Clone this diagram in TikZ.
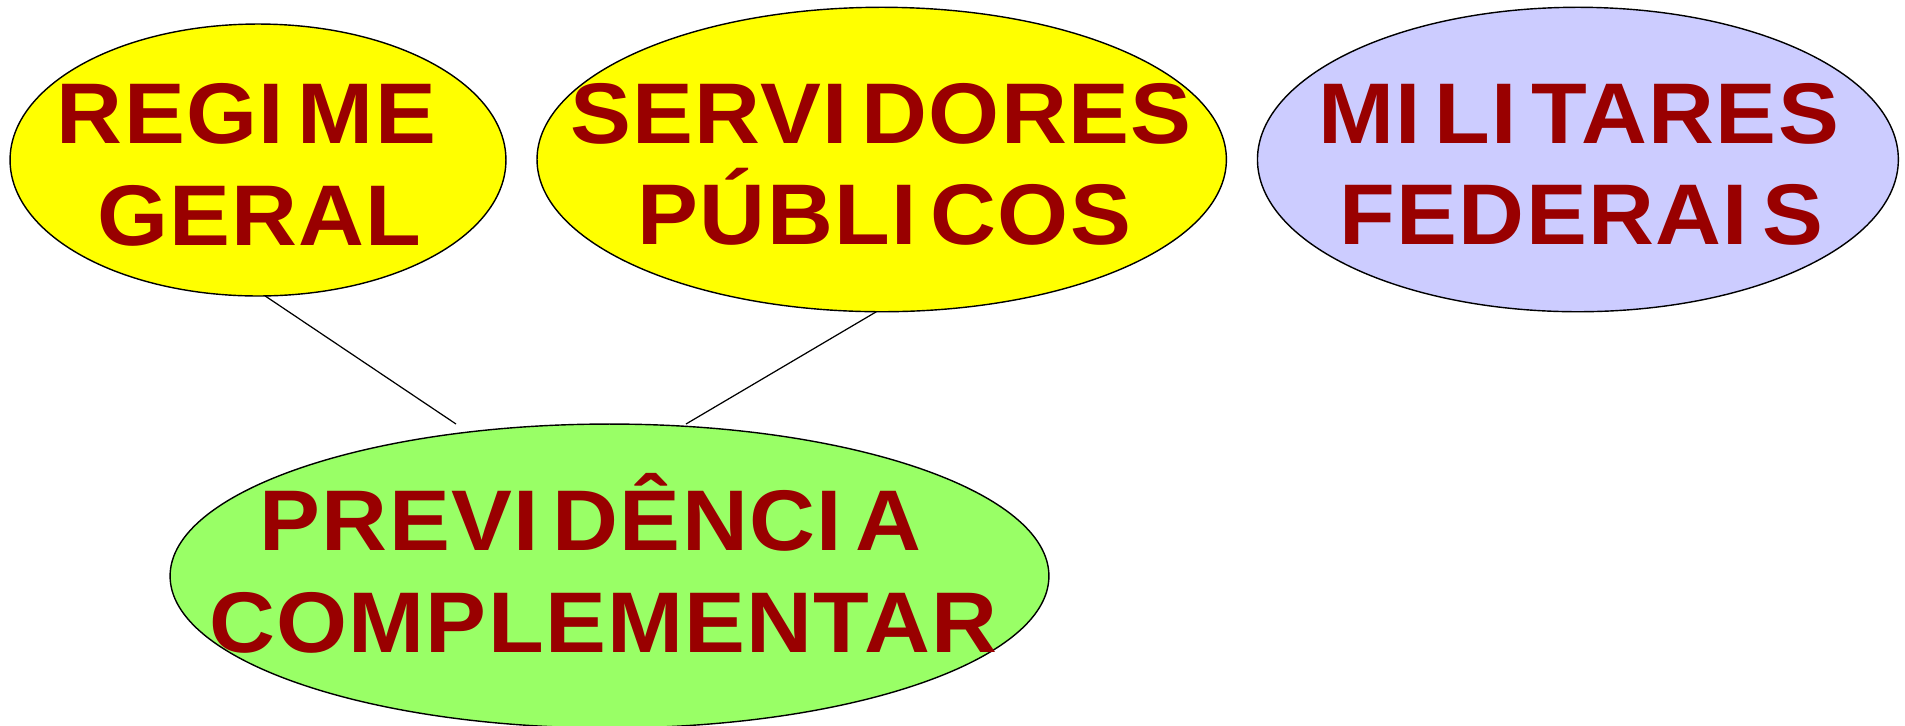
\documentclass[tikz,border=0pt]{standalone}
\usepackage{fontspec}
\usetikzlibrary{shapes.geometric}
\newfontfamily\lblfont[LetterSpace=1.5,FakeStretch=1.06]{Liberation Sans}
\definecolor{txtred}{HTML}{990000}
\definecolor{bubyellow}{HTML}{FFFF00}
\definecolor{bublav}{HTML}{CCCCFF}
\definecolor{bubgreen}{HTML}{99FF66}
\newcommand\Ig{I\hspace{8pt}}
\begin{document}
\begin{tikzpicture}[x=0.02cm,y=-0.02cm,
  bubble/.style={ellipse,draw=black,line width=0.8pt,inner sep=0pt,outer sep=0pt},
  lbl/.style={anchor=base,inner sep=0pt,text=txtred,font=\lblfont\bfseries\fontsize{49}{57.5}\selectfont},
  link/.style={draw=black,line width=0.7pt}]
\useasboundingbox (0,0) rectangle (1905,725);
% bubbles
\node[bubble,fill=bubyellow,minimum width=9.92cm,minimum height=5.44cm] (rg) at (258,160) {};
\node[bubble,fill=bubyellow,minimum width=13.79cm,minimum height=6.09cm] (sp) at (881.7,159.5) {};
\node[bubble,fill=bublav,minimum width=12.82cm,minimum height=6.09cm] (mf) at (1577.9,159.5) {};
\node[bubble,fill=bubgreen,minimum width=17.58cm,minimum height=6.08cm] (pc) at (609.5,576) {};
% labels
\node[lbl] (rgA) at (246.5,143) {REG\Ig ME};
\node[lbl] (rgB) at (259.5,245) {GERAL};
\node[lbl] (spA) at (881,143) {SERV\Ig DORES};
\node[lbl] (spB) at (884.5,244) {PÚBL\Ig COS};
\node[lbl] (mfA) at (1578.5,143) {M\Ig L\Ig TARES};
\node[lbl] (mfB) at (1581.4,244) {FEDERA\Ig S};
\node[lbl] (pcA) at (590.8,550) {PREV\Ig DÊNC\Ig A};
\node[lbl] (pcB) at (603.3,652) {COMPLEMENTAR};
% connectors
\coordinate (e1) at (456,424);
\coordinate (e2) at (686,424);
\draw[link] (rg.-87) -- (e1);
\draw[link] (sp.-92) -- (e2);
\end{tikzpicture}
\end{document}
